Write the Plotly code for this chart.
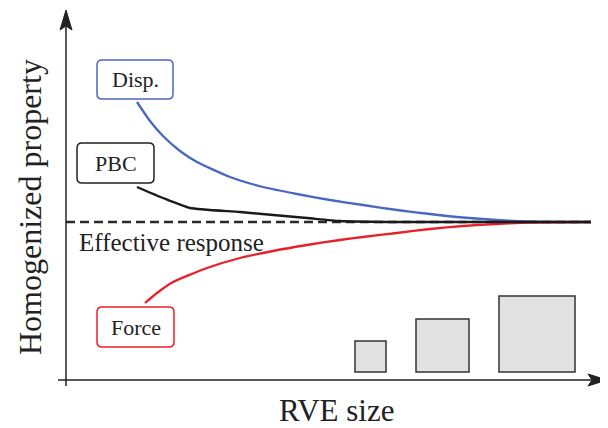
import plotly.graph_objects as go

# Schematic data (x: RVE size, y: homogenized property), arbitrary units
disp_x = [71, 84, 97, 114, 131, 164, 197, 231, 264, 297, 331, 364, 397, 431, 464, 525]
disp_y = [278, 259, 244, 229, 218, 203, 193, 186, 180, 175, 170, 166, 162.5, 160, 158.5, 158]

pbc_x = [71, 97, 124, 174, 241, 274, 334, 525]
pbc_y = [193, 182, 172, 168, 162, 159, 158, 158]

force_x = [79, 91, 107, 141, 174, 207, 241, 274, 297, 331, 364, 397, 431, 464, 525]
force_y = [77, 87, 98, 112, 122, 129, 135, 140, 143, 147, 151, 154, 156, 157.5, 158]

effective_value = 158
effective_x = [0, 525]

# RVE squares: (left, size)
rve_left = [289, 350, 433]
rve_size = [31, 53, 76]

labels = ["Disp.", "PBC", "Force"]
label_boxes = [(31, 107, 281, 320), (11, 88, 197, 237), (31, 108, 33, 73)]
label_colors = ["#4a67c0", "#222222", "#e8202a"]

fig = go.Figure()

fig.add_trace(go.Scatter(x=effective_x, y=[effective_value] * 2, mode="lines",
                         line=dict(color="#2a2a2a", width=2.5, dash="9px,5px"),
                         hoverinfo="skip"))
fig.add_trace(go.Scatter(x=disp_x, y=disp_y, mode="lines",
                         line=dict(color="#4a67c0", width=2.3, shape="spline", smoothing=0.6),
                         hoverinfo="skip"))
fig.add_trace(go.Scatter(x=force_x, y=force_y, mode="lines",
                         line=dict(color="#e8202a", width=2.3, shape="spline", smoothing=0.6),
                         hoverinfo="skip"))
fig.add_trace(go.Scatter(x=pbc_x, y=pbc_y, mode="lines",
                         line=dict(color="#1a1a1a", width=2.4, shape="spline", smoothing=0.5),
                         hoverinfo="skip"))

shapes = []
# axes
shapes.append(dict(type="line", x0=0, x1=0, y0=-6, y1=356, xref="x", yref="y",
                   line=dict(color="#222222", width=1.5)))
shapes.append(dict(type="line", x0=-8, x1=528, y0=0, y1=0, xref="x", yref="y",
                   line=dict(color="#222222", width=1.5)))
shapes.append(dict(type="path", path="M 0 370 L -6 350 L 0 354 L 6 350 Z", xref="x", yref="y",
                   fillcolor="#222222", line=dict(color="#222222", width=1)))
shapes.append(dict(type="path", path="M 541 0 L 522 -6 L 526 0 L 522 6 Z", xref="x", yref="y",
                   fillcolor="#222222", line=dict(color="#222222", width=1)))

# RVE squares
for l, s in zip(rve_left, rve_size):
    shapes.append(dict(type="rect", x0=l, x1=l + s, y0=8, y1=8 + s, xref="x", yref="y",
                       fillcolor="#e2e2e2", line=dict(color="#333333", width=1.5)))


def rounded(x0, x1, y0, y1, r=5):
    return (f"M {x0+r} {y0} L {x1-r} {y0} Q {x1} {y0} {x1} {y0+r} "
            f"L {x1} {y1-r} Q {x1} {y1} {x1-r} {y1} L {x0+r} {y1} "
            f"Q {x0} {y1} {x0} {y1-r} L {x0} {y0+r} Q {x0} {y0} {x0+r} {y0} Z")


annotations = []
for lab, (x0, x1, y0, y1), c in zip(labels, label_boxes, label_colors):
    shapes.append(dict(type="path", path=rounded(x0, x1, y0, y1), xref="x", yref="y",
                       fillcolor="white", line=dict(color=c, width=1.5)))
    annotations.append(dict(x=(x0 + x1) / 2, y=(y0 + y1) / 2, xref="x", yref="y", text=lab,
                            showarrow=False, font=dict(family="Liberation Serif", size=22, color="#222222")))

annotations.append(dict(x=11, y=138, xref="x", yref="y", text="Effective response", xanchor="left",
                        showarrow=False, font=dict(family="Liberation Serif", size=25, color="#222222")))
annotations.append(dict(x=270, y=-30, xref="x", yref="y", text="RVE size",
                        showarrow=False, font=dict(family="Liberation Serif", size=31, color="#222222")))
annotations.append(dict(x=-36, y=173, xref="x", yref="y", text="Homogenized property", textangle=-90,
                        showarrow=False, font=dict(family="Liberation Serif", size=32, color="#222222")))

# page body has an 8px margin, so the figure is 600x420 and the ranges are offset accordingly
fig.update_layout(
    width=600, height=420, margin=dict(l=0, r=0, t=0, b=0),
    paper_bgcolor="white", plot_bgcolor="white", showlegend=False,
    xaxis=dict(range=[-58, 542], visible=False, fixedrange=True),
    yaxis=dict(range=[-48, 372], visible=False, fixedrange=True),
    shapes=shapes, annotations=annotations,
)

fig.write_html("out.html")
